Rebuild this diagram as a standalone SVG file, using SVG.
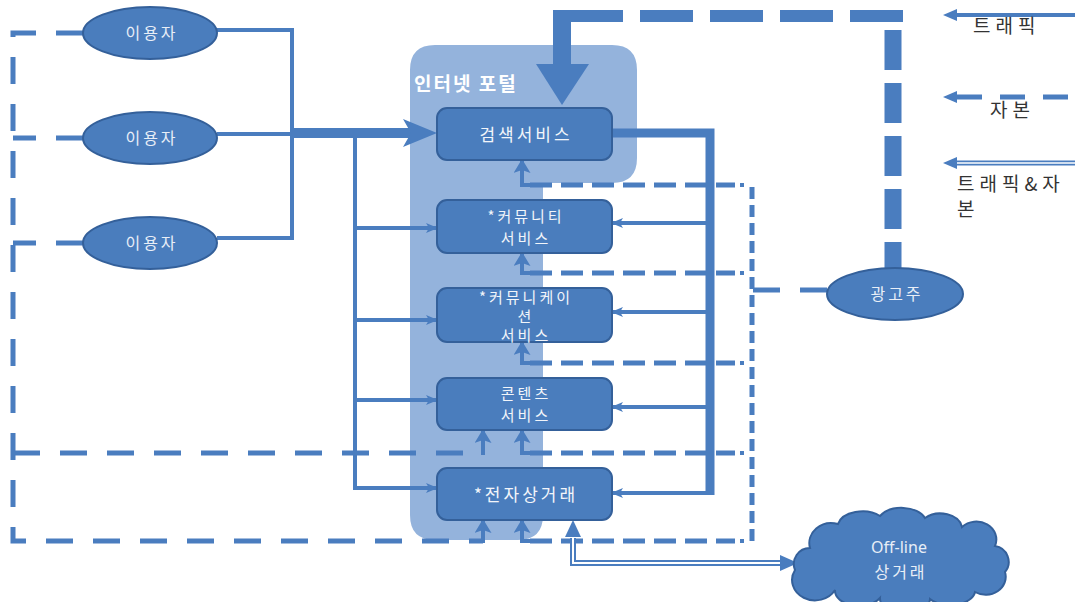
<svg xmlns="http://www.w3.org/2000/svg" width="1080" height="602" viewBox="0 0 1080 602">
<style>
.ln{fill:none;stroke:#4a7dbf;stroke-width:4}
.thick{fill:none;stroke:#4a7dbf;stroke-width:9}
.dash{fill:none;stroke:#4a7dbf;stroke-width:5;stroke-dasharray:27 20}
.dd{fill:none;stroke:#4a7dbf;stroke-width:5;stroke-dasharray:22 9}
.vd{fill:none;stroke:#4a7dbf;stroke-width:5;stroke-dasharray:12 6}
.box{fill:#4a7dbd;stroke:#34609a;stroke-width:2}
.ell{fill:#4a7dbd;stroke:#34609a;stroke-width:2}
.bt{font-family:"Noto Sans CJK KR","Noto Sans",sans-serif;font-size:17px;fill:#f2f5fa;text-anchor:middle;letter-spacing:3px}
.bs{font-family:"Noto Sans CJK KR","Noto Sans",sans-serif;font-size:16px;fill:#f2f5fa;text-anchor:middle;letter-spacing:3px}
.bx{font-family:"Noto Sans CJK KR","Noto Sans",sans-serif;font-size:15px;fill:#f2f5fa;text-anchor:middle;letter-spacing:3px}
.et{font-family:"Noto Sans CJK KR","Noto Sans",sans-serif;font-size:16px;fill:#e8eef7;text-anchor:middle;letter-spacing:3px}
.en{font-family:"Noto Sans","Noto Sans CJK KR",sans-serif;font-size:16px;fill:#e8eef7;text-anchor:middle}
.lg{font-family:"Noto Sans CJK KR","Noto Sans",sans-serif;font-size:19px;fill:#333;letter-spacing:5px}
</style>
<defs>
<marker id="sm" viewBox="0 0 12 10" refX="11" refY="5" markerWidth="12" markerHeight="10" markerUnits="userSpaceOnUse" orient="auto"><path d="M0,0 L12,5 L0,10 L3,5 Z" fill="#4a7dbf"/></marker>
<marker id="up" viewBox="0 0 14 17" refX="13" refY="8.5" markerWidth="14" markerHeight="17" markerUnits="userSpaceOnUse" orient="auto"><path d="M0,0 L14,8.5 L0,17 L3,8.5 Z" fill="#4a7dbf"/></marker>
</defs>
<rect width="1080" height="602" fill="#fff"/>

<g id="portal">
<path d="M435,45 H612 Q637,45 637,70 V158 Q637,183 612,183 H543 V515 Q543,540 518,540 H435 Q410,540 410,515 V70 Q410,45 435,45 Z" fill="#94b3dc"/>
<text x="414" y="91" font-family="'Noto Sans CJK KR','Noto Sans',sans-serif" font-size="19" font-weight="bold" fill="#fff" letter-spacing="2">인터넷 포털</text>
</g>

<g id="connectors">
<!-- top traffic -->
<rect x="553" y="10" width="18" height="56" fill="#4a7dbf"/>
<polygon points="536,64 589,64 562,105" fill="#4a7dbf"/>
<line x1="570" y1="16" x2="903" y2="16" stroke="#4a7dbf" stroke-width="12" stroke-dasharray="53 17"/>
<line x1="893" y1="30" x2="893" y2="270" stroke="#4a7dbf" stroke-width="17" stroke-dasharray="40 13"/>
<!-- users -->
<path class="ln" d="M217,30 H292 M217,134 H292 M217,238 H292 M292,28 V240"/>
<line x1="290" y1="133" x2="412" y2="133" stroke="#4a7dbf" stroke-width="10"/>
<polygon points="403,119 437,133 403,147 411,133" fill="#4a7dbf"/>
<path class="ln" d="M355,131 V490"/>
<path class="ln" d="M353,228 H437" marker-end="url(#sm)"/>
<path class="ln" d="M353,320 H437" marker-end="url(#sm)"/>
<path class="ln" d="M353,400 H437" marker-end="url(#sm)"/>
<path class="ln" d="M353,488 H437" marker-end="url(#sm)"/>
<!-- right thick -->
<path class="thick" d="M612,133 H710 V495"/>
<path class="ln" d="M712,223 H612" marker-end="url(#sm)"/>
<path class="ln" d="M712,312 H612" marker-end="url(#sm)"/>
<path class="ln" d="M712,407 H612" marker-end="url(#sm)"/>
<path class="ln" d="M712,493 H612" marker-end="url(#sm)"/>
<!-- left dashed loop -->
<path class="dash" d="M83,33 H13 V541 H483"/>
<path class="dash" d="M83,138 H13"/>
<path class="dash" d="M83,243 H13"/>
<path class="dash" d="M13,453 H483"/>
<path class="ln" stroke-width="5" d="M483,455 V430" marker-end="url(#up)"/>
<path class="ln" stroke-width="5" d="M483,543 V520" marker-end="url(#up)"/>
<!-- dash-dot returns -->
<g>
<path class="dd" d="M530,185 H735"/><path class="ln" stroke-width="5" d="M740,185 H744"/>
<path class="ln" stroke-width="5" d="M532,185 H522 V160" marker-end="url(#up)"/>
<path class="dd" d="M530,273 H735"/><path class="ln" stroke-width="5" d="M740,273 H744"/>
<path class="ln" stroke-width="5" d="M532,273 H522 V253" marker-end="url(#up)"/>
<path class="dd" d="M530,363 H735"/><path class="ln" stroke-width="5" d="M740,363 H744"/>
<path class="ln" stroke-width="5" d="M532,363 H522 V342" marker-end="url(#up)"/>
<path class="dd" d="M530,453 H735"/><path class="ln" stroke-width="5" d="M740,453 H744"/>
<path class="ln" stroke-width="5" d="M532,453 H522 V430" marker-end="url(#up)"/>
<path class="dd" d="M530,541 H735"/><path class="ln" stroke-width="5" d="M740,541 H744"/>
<path class="ln" stroke-width="5" d="M532,541 H522 V520" marker-end="url(#up)"/>
</g>
<path class="vd" d="M752,187 V542"/>
<path class="dash" stroke-dasharray="22 9" d="M827,290 H752"/>
<!-- double line to offline -->
<path d="M573,538 V563 H782" fill="none" stroke="#4a7dbf" stroke-width="6"/>
<path d="M573,536 V563 H782" fill="none" stroke="#fff" stroke-width="2"/>
<polygon points="565,537 573,520 581,537" fill="#4a7dbf"/>
<polygon points="780,555 798,563 780,571" fill="#4a7dbf"/>
</g>

<g id="legend">
<line x1="1075" y1="15" x2="955" y2="15" stroke="#4a7dbf" stroke-width="4"/>
<polygon points="943,15 957,9 957,21" fill="#4a7dbf"/>
<text class="lg" x="973" y="33">트래픽</text>
<line x1="1068" y1="97" x2="955" y2="97" stroke="#4a7dbf" stroke-width="5" stroke-dasharray="25 18"/>
<polygon points="943,97 957,91 957,103" fill="#4a7dbf"/>
<text class="lg" x="990" y="117">자본</text>
<line x1="1075" y1="163" x2="955" y2="163" stroke="#4a7dbf" stroke-width="5"/>
<line x1="1075" y1="163" x2="955" y2="163" stroke="#fff" stroke-width="1.5"/>
<polygon points="943,163 957,157 957,169" fill="#4a7dbf"/>
<text class="lg" x="957" y="191">트래픽&amp;자</text>
<text class="lg" x="957" y="216">본</text>
</g>

<g id="user1"><ellipse class="ell" cx="150" cy="33" rx="67" ry="26"/><text class="et" x="152" y="39">이용자</text></g>
<g id="user2"><ellipse class="ell" cx="150" cy="138" rx="67" ry="26"/><text class="et" x="152" y="144">이용자</text></g>
<g id="user3"><ellipse class="ell" cx="150" cy="243" rx="67" ry="26"/><text class="et" x="152" y="249">이용자</text></g>

<g id="search"><rect class="box" x="437" y="108" width="175" height="52" rx="10"/><text class="bt" x="526" y="141">검색서비스</text></g>
<g id="community"><rect class="box" x="437" y="200" width="175" height="53" rx="10"/><text class="bx" x="526" y="222">*커뮤니티</text><text class="bx" x="526" y="244">서비스</text></g>
<g id="communication"><rect class="box" x="437" y="288" width="175" height="54" rx="10"/><text class="bx" x="526" y="303">*커뮤니케이</text><text class="bx" x="526" y="322">션</text><text class="bx" x="526" y="341">서비스</text></g>
<g id="contents"><rect class="box" x="437" y="378" width="175" height="52" rx="10"/><text class="bx" x="526" y="399">콘텐츠</text><text class="bx" x="526" y="421">서비스</text></g>
<g id="ecommerce"><rect class="box" x="437" y="468" width="175" height="52" rx="10"/><text class="bt" x="526" y="501">*전자상거래</text></g>

<g id="advertiser"><ellipse class="ell" cx="895" cy="294" rx="68" ry="26"/><text class="et" x="897" y="300">광고주</text></g>
<g id="offline">
<path class="ell" d="M810,548 A22,20 0 0 1 838,524 A25,16 0 0 1 880,516 A25,16 0 0 1 925,518 A22,16 0 0 1 962,527 A20,18 0 0 1 995,546 A16,16 0 0 1 1005,572 A20,18 0 0 1 975,592 A25,15 0 0 1 930,599 A25,15 0 0 1 880,598 A24,15 0 0 1 835,590 A18,16 0 0 1 795,570 A16,16 0 0 1 810,548 Z"/>
<text class="en" x="899" y="553">Off-line</text>
<text class="et" x="901" y="578">상거래</text>
</g>
</svg>
